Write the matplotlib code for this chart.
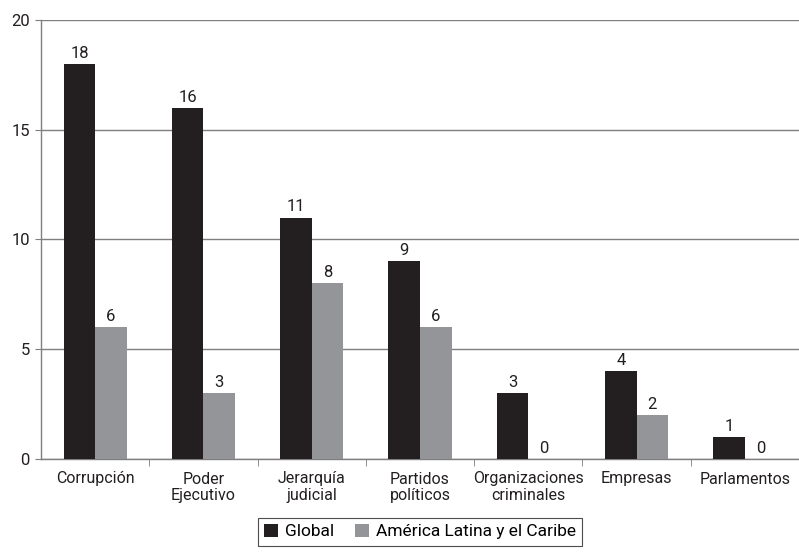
import matplotlib
matplotlib.use("Agg")
import matplotlib.pyplot as plt
import numpy as np

plt.rcParams["font.family"] = ["Roboto", "DejaVu Sans"]

categorias = ["Corrupción", "Poder\nEjecutivo", "Jerarquía\njudicial", "Partidos\npolíticos",
              "Organizaciones\ncriminales", "Empresas", "Parlamentos"]
global_vals = [18, 16, 11, 9, 3, 4, 1]
latam_vals = [6, 3, 8, 6, 0, 2, 0]

COLOR_GLOBAL = "#231f20"
COLOR_LATAM = "#939598"
GRID = "#7f7f7f"

fig = plt.figure(figsize=(7.99, 5.6), dpi=100)
ax = fig.add_axes([41 / 799, 1 - 459 / 560, 1 - 41 / 799, (459 - 20) / 560])

x = np.arange(len(categorias))
w = 32 / 110
b1 = ax.bar(x - w / 2, global_vals, w, color=COLOR_GLOBAL, label="Global", zorder=3)
b2 = ax.bar(x + w / 2, latam_vals, w, color=COLOR_LATAM, label="América Latina y el Caribe", zorder=3)

for bars, vals in ((b1, global_vals), (b2, latam_vals)):
    for r, v in zip(bars, vals):
        ax.text(r.get_x() + r.get_width() / 2, v + 0.15, str(v), ha="center", va="bottom",
                fontsize=12, color="#231f20")

ax.set_xlim(-0.5, -0.5 + 758 / 110)
ax.set_ylim(0, 20)
ax.set_yticks([0, 5, 10, 15, 20])
ax.yaxis.grid(True, color=GRID, linewidth=1.0, zorder=0)
ax.tick_params(axis="y", length=4, color=GRID, labelsize=12, pad=4, labelcolor="#231f20")

# category labels centred, ticks on the boundaries
ax.set_xticks(x)
ax.set_xticklabels(categorias, fontsize=11.5, color="#231f20", linespacing=1.1)
ax.set_xticks(np.arange(len(categorias)) + 0.5, minor=True)
ax.tick_params(axis="x", which="major", length=0, pad=9)
ax.tick_params(axis="x", which="minor", length=5, color=GRID, direction="out")

for s in ("top", "right"):
    ax.spines[s].set_visible(False)
for s in ("left", "bottom"):
    ax.spines[s].set_color(GRID)
    ax.spines[s].set_linewidth(1.0)

leg = ax.legend(loc="upper center", bbox_to_anchor=(0.5, -0.114), ncol=2, frameon=True,
                fancybox=False, fontsize=12.5, handlelength=0.8, handleheight=0.8,
                handletextpad=0.4, columnspacing=1.2, borderpad=0.35)
leg.get_frame().set_edgecolor("#231f20")
leg.get_frame().set_linewidth(0.8)

fig.savefig("out.png", dpi=100)
